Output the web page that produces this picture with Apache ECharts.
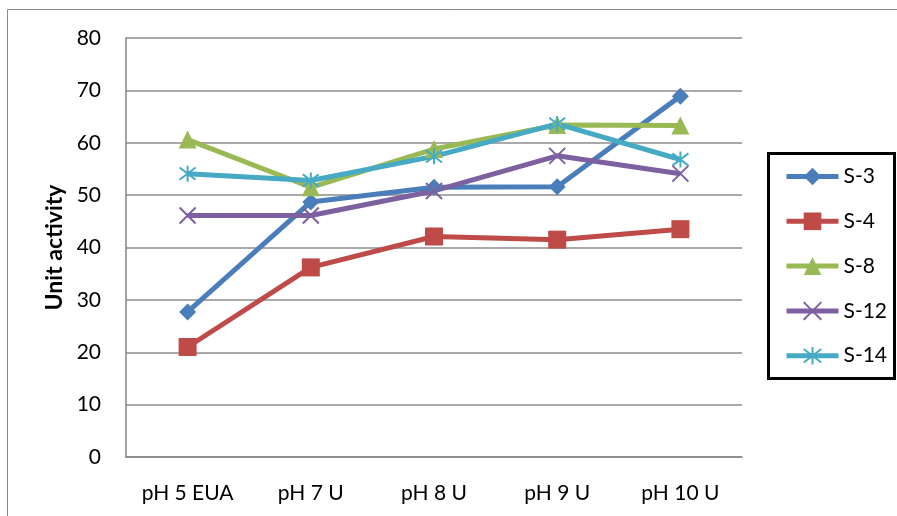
<!DOCTYPE html>
<html>
<head>
<meta charset="utf-8">
<script src="https://cdn.jsdelivr.net/npm/echarts@6/dist/echarts.min.js"></script>
<style>html,body{margin:0;padding:0;background:#fff}#c{width:897px;height:516px}</style>
</head>
<body>
<div id="c"></div>
<script>
const categories = ['pH 5 EUA', 'pH 7 U', 'pH 8 U', 'pH 9 U', 'pH 10 U'];
const s3  = [27.7, 48.7, 51.5, 51.6, 68.9];
const s4  = [21.0, 36.2, 42.1, 41.5, 43.5];
const s8  = [60.6, 51.5, 58.8, 63.4, 63.3];
const s12 = [46.1, 46.1, 50.8, 57.5, 54.1];
const s14 = [54.1, 52.8, 57.4, 63.6, 56.8];
const yTicks = [0, 10, 20, 30, 40, 50, 60, 70, 80];

const FONT = 'Lato';
const crossPath = 'path://M0,0 L10,10 M10,0 L0,10';
const starPath = 'path://M0,0 L10,10 M10,0 L0,10 M5,-1.5 L5,11.5';

function mk(name, data, color, symbol, size, stroke) {
  return {
    name: name, type: 'line', data: data,
    symbol: symbol, symbolSize: size,
    lineStyle: { color: color, width: 5 },
    itemStyle: stroke ? { color: 'rgba(0,0,0,0)', borderColor: color, borderWidth: 2 } : { color: color },
    emphasis: { disabled: true },
    z: 2
  };
}

const chart = echarts.init(document.getElementById('c'), null, { renderer: 'canvas' });
chart.setOption({
  animation: false,
  backgroundColor: '#fff',
  textStyle: { fontFamily: FONT },
  grid: { left: 126, top: 38, right: 155, bottom: 59, containLabel: false },
  xAxis: {
    type: 'category', data: categories, boundaryGap: true,
    axisLine: { lineStyle: { color: '#868686', width: 1.5 } },
    axisTick: { show: false },
    axisLabel: { color: '#000', fontSize: 21, fontFamily: FONT, margin: 26 }
  },
  yAxis: {
    type: 'value', min: yTicks[0], max: yTicks[yTicks.length - 1], interval: 10,
    name: 'Unit activity', nameLocation: 'middle', nameGap: 57, nameRotate: 90,
    nameTextStyle: { color: '#000', fontSize: 23, fontWeight: 'bold', fontFamily: FONT },
    axisLine: { show: true, lineStyle: { color: '#868686', width: 1.5 } },
    axisTick: { show: false },
    splitLine: { lineStyle: { color: '#8c8c8c', width: 1.5 } },
    axisLabel: { color: '#000', fontSize: 21, fontFamily: FONT, margin: 25 }
  },
  legend: {
    orient: 'vertical', left: 779, top: 161,
    itemWidth: 52, itemHeight: 22, itemGap: 23.8,
    lineStyle: { width: 5 },
    textStyle: { color: '#000', fontSize: 21, fontFamily: FONT, padding: [0, 0, 0, 0] },
    data: ['S-3', 'S-4', 'S-8', 'S-12', 'S-14']
  },
  graphic: [
    { type: 'rect', shape: { x: 7.5, y: 9.5, width: 900, height: 520 }, style: { fill: null, stroke: '#8a8a8a', lineWidth: 1 }, silent: true },
    { type: 'rect', shape: { x: 768.5, y: 153.5, width: 126, height: 225 }, style: { fill: null, stroke: '#000', lineWidth: 3 }, silent: true, z: 10 }
  ],
  series: [
    mk('S-3', s3, '#4a7ebb', 'diamond', 17, false),
    mk('S-4', s4, '#be4b48', 'rect', 18, false),
    mk('S-8', s8, '#98b954', 'triangle', 18, false),
    mk('S-12', s12, '#7d60a0', crossPath, 16, true),
    mk('S-14', s14, '#46aac5', starPath, 16, true)
  ]
});
</script>
</body>
</html>
